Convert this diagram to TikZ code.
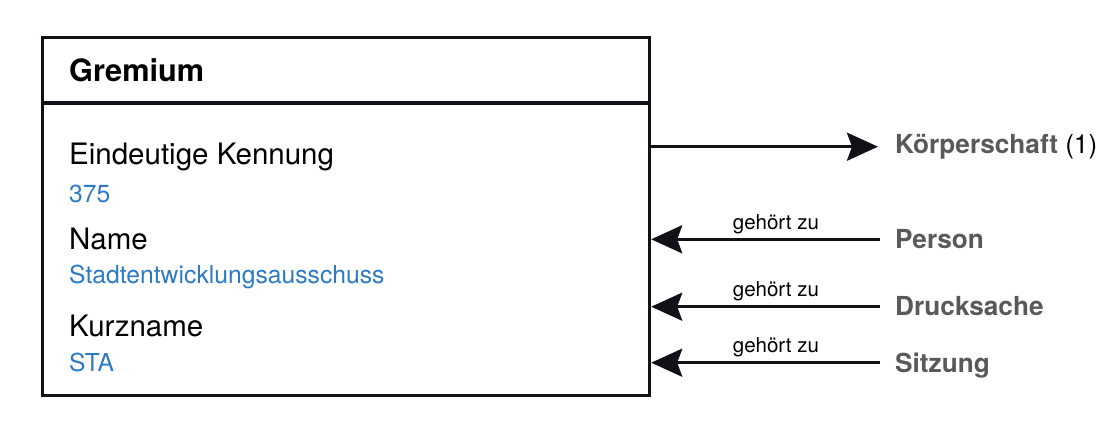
\documentclass[tikz,border=0pt]{standalone}
\usepackage{fontspec}
\setmainfont{TeX Gyre Heros}
\usetikzlibrary{arrows.meta}
\definecolor{ink}{HTML}{131117}
\definecolor{valblue}{HTML}{2B7BC4}
\definecolor{refgray}{HTML}{58595B}
\begin{document}
\begin{tikzpicture}[x=1pt,y=1pt,
  txt/.style={anchor=base west, inner sep=0pt},
  attr/.style={txt, font=\fontsize{29.5}{33}\selectfont, text=black},
  attrval/.style={txt, font=\fontsize{24.7}{28}\selectfont, text=valblue},
  target/.style={txt, font=\fontsize{26.2}{30}\selectfont\bfseries, text=refgray},
  conn/.style={draw=ink, line width=3.2pt, -{Stealth[length=31pt,width=28pt,inset=5pt]}},
  rel/.style={font=\fontsize{20.5}{24}\selectfont, text=black, anchor=base, inner sep=0pt, yshift=10pt}
]
\useasboundingbox (0,0) rectangle (1119,440);
% entity box
\node[draw=ink, line width=3.2pt, minimum width=607pt, minimum height=357.5pt,
      inner sep=0pt, anchor=north west] (box) at (41,404) {};
\coordinate (hdr) at (0,337);
\draw[ink, line width=3.2pt] (box.west |- hdr) -- (box.east |- hdr);
% texts
\node[txt, font=\fontsize{30.7}{34}\selectfont\bfseries] (title) at (69,358) {Gremium};
\node[attr] (a1) at (69,276) {Eindeutige Kennung};
\node[attrval] (v1) at (69,238) {375};
\node[attr] (a2) at (69,191) {Name};
\node[attrval] (v2) at (69,157) {Stadtentwicklungsausschuss};
\node[attr] (a3) at (69,104) {Kurzname};
\node[attrval] (v3) at (69,69) {STA};
% targets
\node[target] (korp) at (895,287) {Körperschaft\mdseries\color{black}{} (1)};
\node[target] (pers) at (895,192) {Person};
\node[target] (druck) at (895,125) {Drucksache};
\node[target] (sitz) at (895,68) {Sitzung};
% connector ends
\coordinate (eK) at (878,293.3);
\coordinate (eP) at (880,200.7);
\coordinate (eD) at (880,133.3);
\coordinate (eS) at (880,77.3);
% connectors
\draw[conn] (box.east |- eK) -- (eK);
\draw[conn] (eP) -- node[rel, pos=0.455] {gehört zu} (box.east |- eP);
\draw[conn] (eD) -- node[rel, pos=0.455] {gehört zu} (box.east |- eD);
\draw[conn] (eS) -- node[rel, pos=0.455] {gehört zu} (box.east |- eS);
\end{tikzpicture}
\end{document}
